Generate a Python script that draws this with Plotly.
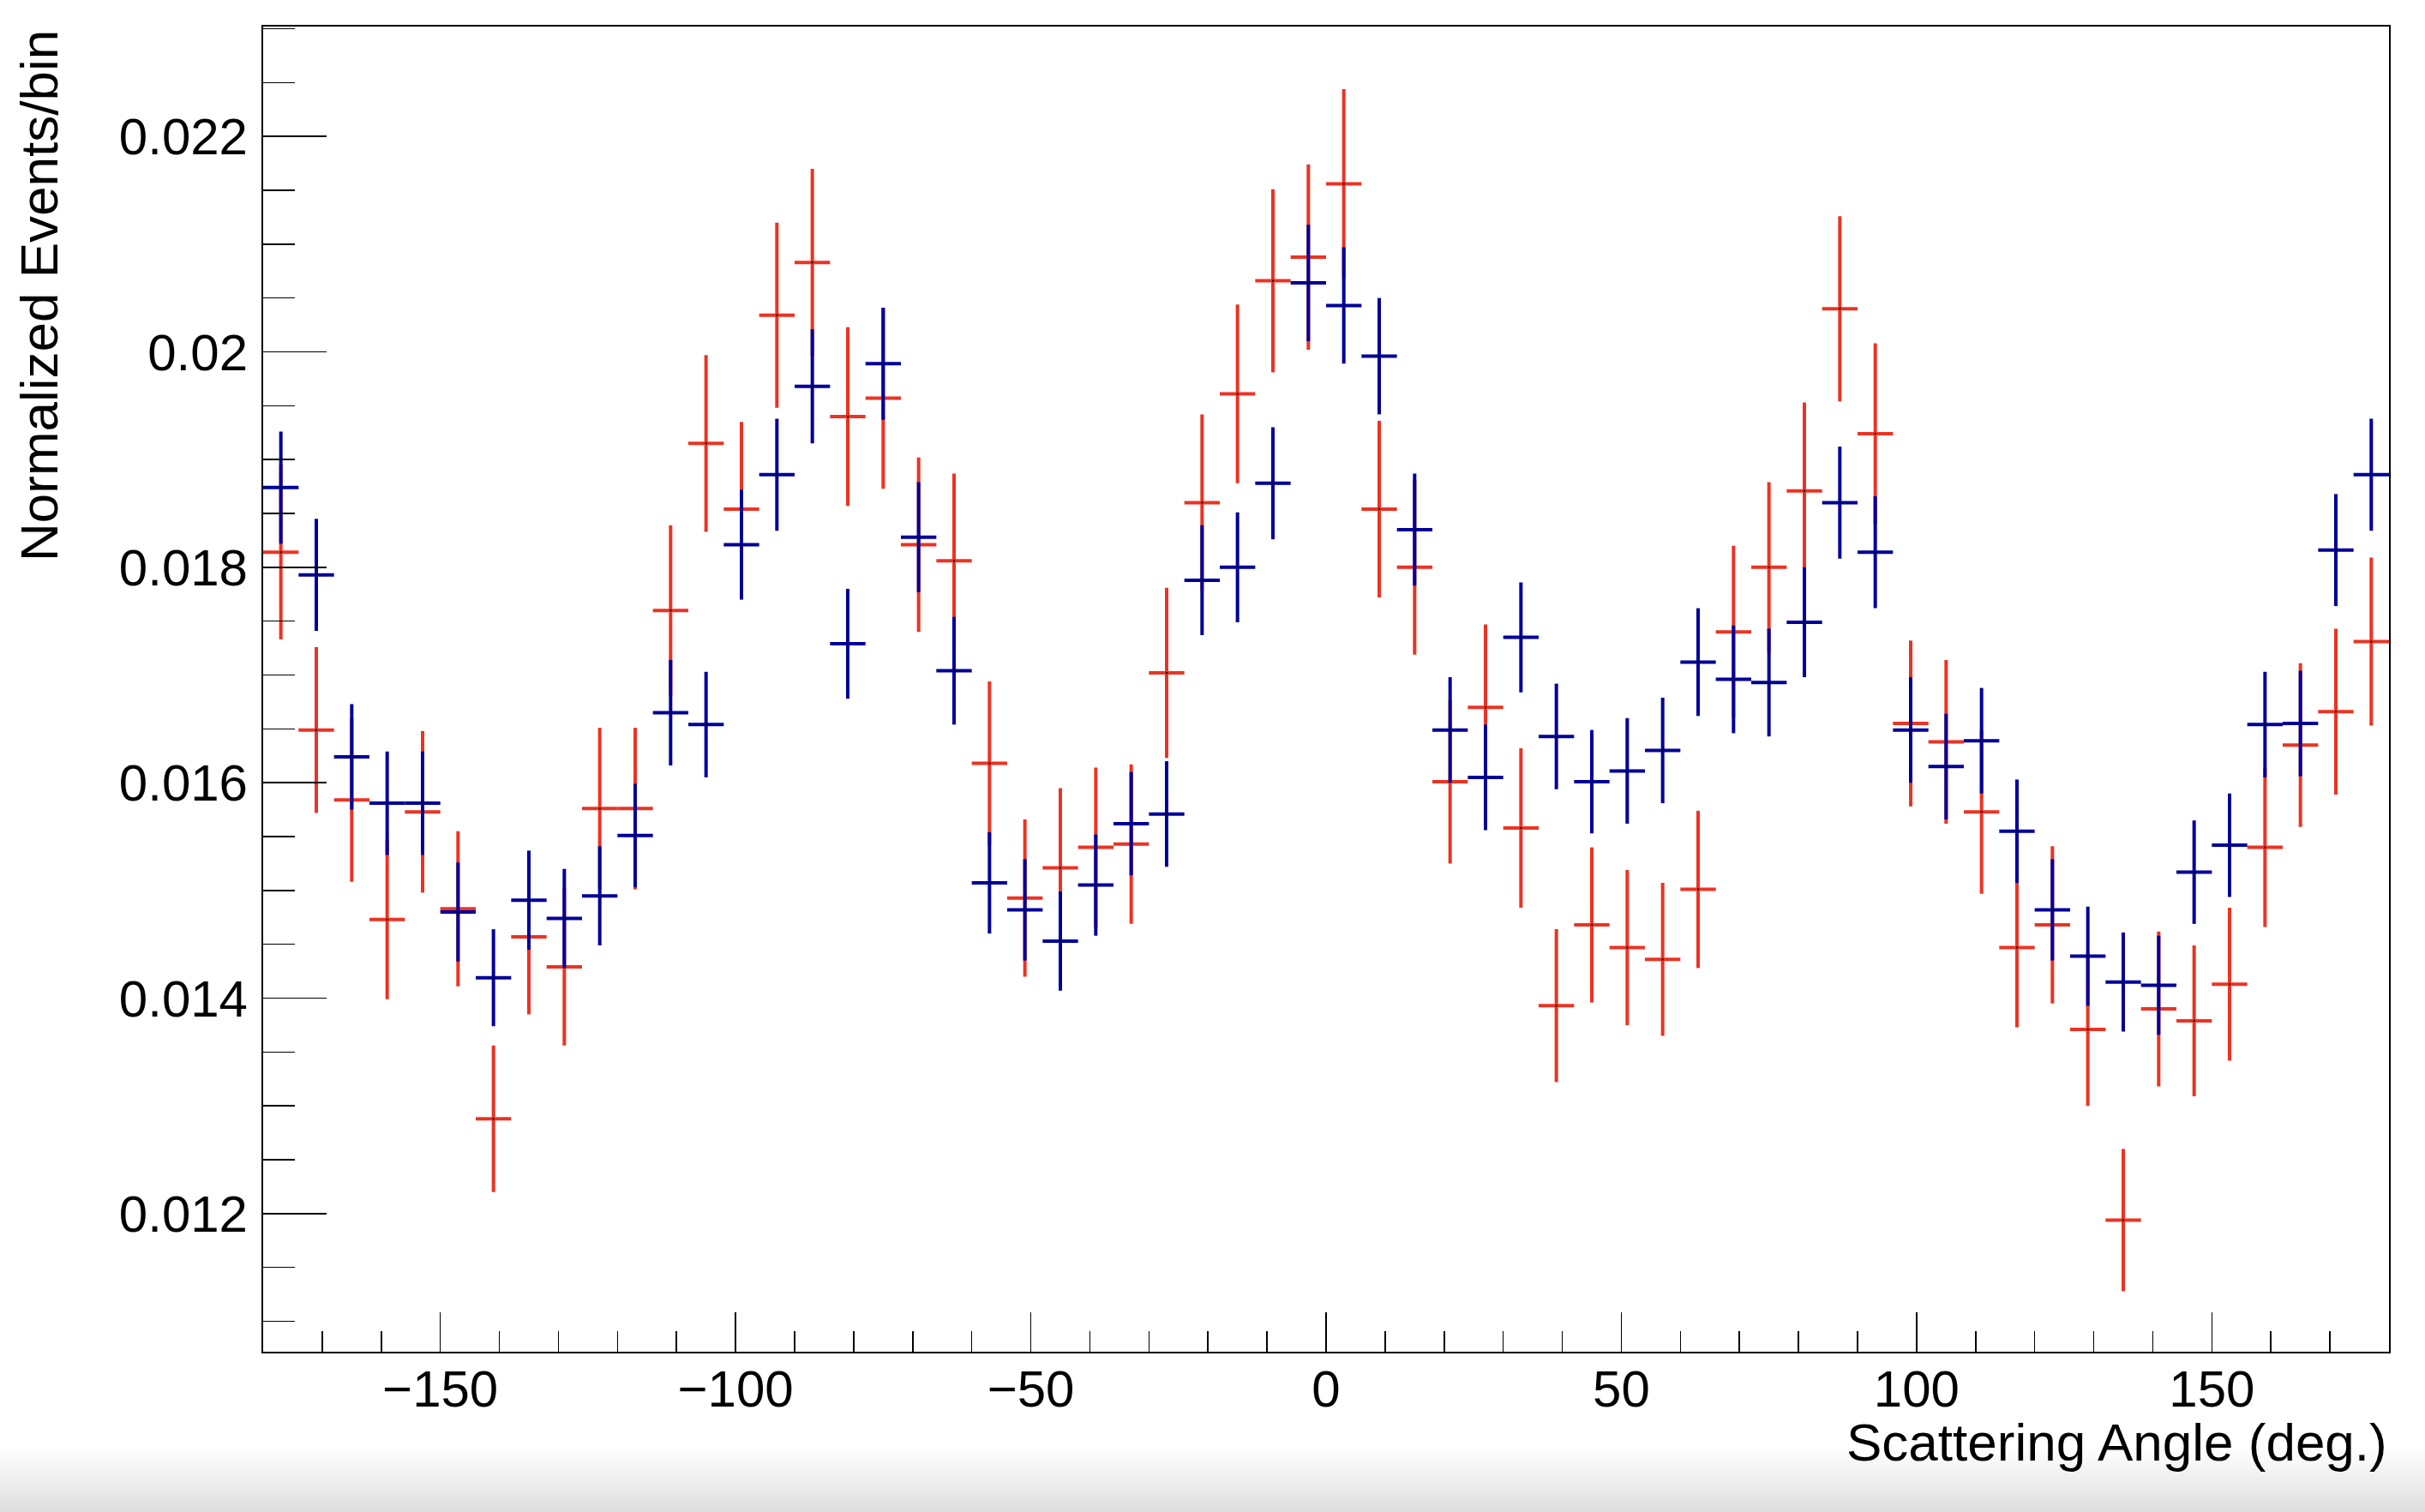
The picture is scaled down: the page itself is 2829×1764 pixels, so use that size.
import plotly.graph_objects as go

# ---------------- data ----------------
bin_edges = list(range(-180, 181, 6))            # 60 bins, 6 deg wide
angle_centers = [(a + b) / 2 for a, b in zip(bin_edges[:-1], bin_edges[1:])]
half_bin = [(b - a) / 2 for a, b in zip(bin_edges[:-1], bin_edges[1:])]

red_values = [
    0.01814, 0.01649, 0.01584, 0.01473, 0.01573, 0.01483, 0.01288, 0.01457, 0.01429, 0.01576,
    0.01576, 0.01760, 0.01915, 0.01854, 0.02034, 0.02083, 0.01940, 0.01957, 0.01821, 0.01806,
    0.01618, 0.01493, 0.01521, 0.01540, 0.01543, 0.01702, 0.01860, 0.01961, 0.02066, 0.02088,
    0.02156, 0.01854, 0.01800, 0.01601, 0.01670, 0.01558, 0.01393, 0.01468, 0.01447, 0.01436,
    0.01501, 0.01740, 0.01800, 0.01871, 0.02040, 0.01924, 0.01655, 0.01638, 0.01573, 0.01447,
    0.01468, 0.01371, 0.01194, 0.01390, 0.01379, 0.01413, 0.01540, 0.01635, 0.01666, 0.01731,
]
red_errors = [
    0.00081, 0.00077, 0.00076, 0.00074, 0.00075, 0.00072, 0.00068, 0.00072, 0.00073, 0.00075,
    0.00075, 0.00079, 0.00082, 0.00081, 0.00086, 0.00087, 0.00083, 0.00084, 0.00081, 0.00081,
    0.00076, 0.00073, 0.00074, 0.00074, 0.00074, 0.00079, 0.00082, 0.00083, 0.00085, 0.00086,
    0.00088, 0.00082, 0.00081, 0.00076, 0.00077, 0.00074, 0.00071, 0.00072, 0.00072, 0.00071,
    0.00073, 0.00080, 0.00079, 0.00082, 0.00086, 0.00084, 0.00077, 0.00076, 0.00076, 0.00074,
    0.00073, 0.00071, 0.00066, 0.00072, 0.00070, 0.00071, 0.00074, 0.00076, 0.00077, 0.00078,
]
blue_values = [
    0.01874, 0.01793, 0.01624, 0.01581, 0.01581, 0.01480, 0.01419, 0.01491, 0.01474, 0.01495,
    0.01551, 0.01665, 0.01654, 0.01821, 0.01886, 0.01968, 0.01729, 0.01989, 0.01828, 0.01704,
    0.01507, 0.01482, 0.01453, 0.01505, 0.01562, 0.01571, 0.01788, 0.01800, 0.01878, 0.02064,
    0.02043, 0.01996, 0.01835, 0.01649, 0.01605, 0.01735, 0.01643, 0.01601, 0.01611, 0.01630,
    0.01712, 0.01696, 0.01693, 0.01749, 0.01860, 0.01814, 0.01649, 0.01615, 0.01639, 0.01555,
    0.01482, 0.01439, 0.01415, 0.01412, 0.01517, 0.01542, 0.01654, 0.01655, 0.01816, 0.01886,
]
blue_errors = [
    0.00052, 0.00052, 0.00049, 0.00048, 0.00048, 0.00046, 0.00045, 0.00046, 0.00046, 0.00046,
    0.00048, 0.00049, 0.00049, 0.00051, 0.00052, 0.00053, 0.00051, 0.00052, 0.00051, 0.00050,
    0.00047, 0.00047, 0.00046, 0.00047, 0.00048, 0.00049, 0.00051, 0.00051, 0.00052, 0.00054,
    0.00054, 0.00054, 0.00052, 0.00049, 0.00049, 0.00051, 0.00049, 0.00048, 0.00049, 0.00049,
    0.00050, 0.00050, 0.00050, 0.00051, 0.00052, 0.00052, 0.00049, 0.00049, 0.00049, 0.00048,
    0.00047, 0.00046, 0.00046, 0.00046, 0.00048, 0.00048, 0.00049, 0.00049, 0.00052, 0.00052,
]

x_tick_vals = [-150, -100, -50, 0, 50, 100, 150]
x_tick_text = ["\u2212150", "\u2212100", "\u221250", "0", "50", "100", "150"]
y_tick_vals = [0.012, 0.014, 0.016, 0.018, 0.020, 0.022]
y_tick_text = ["0.012", "0.014", "0.016", "0.018", "0.02", "0.022"]

x_title = "Scattering Angle (deg.)"
y_title = "Normalized Events/bin"

# ---------------- style ----------------
W, H = 2829, 1764
ML, MR, MT, MB = 307, 42, 31, 187
PW, PH = W - ML - MR, H - MT - MB
RED = "#eb3323"
BLUE = "#000099"
FONT = "Liberation Sans, Arial, Helvetica, sans-serif"
FS = 60


def hist_trace(vals, errs, color):
    return go.Scatter(
        x=angle_centers, y=vals, mode="markers",
        marker=dict(size=2, color="black", symbol="square"),
        error_y=dict(type="data", array=errs, visible=True, color=color,
                     thickness=4, width=0),
        error_x=dict(type="data", array=half_bin, visible=True, color=color,
                     thickness=4, width=0),
        showlegend=False, hoverinfo="skip",
    )


fig = go.Figure()
fig.add_trace(hist_trace(red_values, red_errors, RED))
fig.add_trace(hist_trace(blue_values, blue_errors, BLUE))

axis_common = dict(
    showline=True, linecolor="black", linewidth=2, mirror=True,
    showgrid=False, zeroline=False, ticks="inside", tickcolor="black",
    tickwidth=1.5, tickfont=dict(family=FONT, size=FS, color="black"),
)

fig.update_xaxes(
    range=[bin_edges[0], bin_edges[-1]], tickvals=x_tick_vals, ticktext=x_tick_text,
    ticklen=46, ticklabelstandoff=-10,
    minor=dict(ticks="inside", dtick=10, tick0=0, ticklen=24, tickwidth=1.5,
               tickcolor="black"),
    **axis_common,
)
fig.update_yaxes(
    range=[0.010718, 0.02302], tickvals=y_tick_vals, ticktext=y_tick_text,
    ticklen=74, ticklabelstandoff=4,
    minor=dict(ticks="inside", dtick=0.0005, tick0=0, ticklen=37, tickwidth=1.5,
               tickcolor="black"),
    **axis_common,
)

# subtle grey fade at the bottom of the canvas
shapes = []
n_steps = 16
y_start_px = 1690
for i in range(n_steps):
    top_px = y_start_px + i * (H - y_start_px) / n_steps
    shapes.append(dict(
        type="rect", xref="paper", yref="paper", layer="below",
        x0=-ML / PW, x1=1 + MR / PW,
        y0=((MT + PH) - H) / PH, y1=((MT + PH) - top_px) / PH,
        fillcolor="rgba(0,0,0,0.0065)", line=dict(width=0),
    ))

annotations = [
    dict(text=x_title, xref="paper", yref="paper", x=1.0, xanchor="right",
         y=((MT + PH) - 1682) / PH, yanchor="middle", showarrow=False,
         font=dict(family=FONT, size=62, color="black")),
    dict(text=y_title, xref="paper", yref="paper", x=(45 - ML) / PW,
         xanchor="center", y=1 - (33 - MT) / PH, yanchor="top",
         textangle=-90, showarrow=False,
         font=dict(family=FONT, size=62, color="black")),
]

fig.update_layout(
    width=W, height=H, autosize=False,
    margin=dict(l=ML, r=MR, t=MT, b=MB, pad=0),
    paper_bgcolor="white", plot_bgcolor="white",
    shapes=shapes, annotations=annotations,
    font=dict(family=FONT, size=FS, color="black"),
)

fig.write_html(
    "out.html",
    config={"displayModeBar": False, "staticPlot": True},
    post_script="document.body.style.margin='0px';document.body.style.overflow='hidden';",
)
